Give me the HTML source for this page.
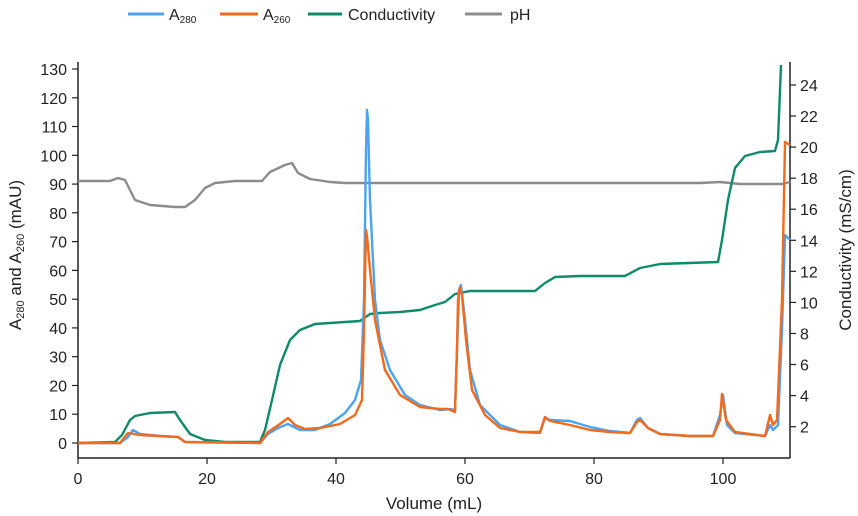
<!DOCTYPE html>
<html><head><meta charset="utf-8"><style>
body{margin:0;background:#fff;}
svg{display:block;font-family:"Liberation Sans",sans-serif;}
</style></head><body>
<svg width="858" height="516" viewBox="0 0 858 516" xmlns="http://www.w3.org/2000/svg">
<!-- legend -->
<g font-size="16" fill="#222">
<line x1="128" y1="14" x2="164" y2="14" stroke="#4da3f0" stroke-width="3"/>
<text x="169" y="20">A<tspan font-size="10" dy="3">280</tspan></text>
<line x1="220" y1="14" x2="258" y2="14" stroke="#f26a1b" stroke-width="3"/>
<text x="263" y="20">A<tspan font-size="10" dy="3">260</tspan></text>
<line x1="308" y1="14" x2="342" y2="14" stroke="#0f8a6a" stroke-width="3"/>
<text x="348" y="20">Conductivity</text>
<line x1="465" y1="14" x2="502" y2="14" stroke="#8c8c8c" stroke-width="3"/>
<text x="510" y="20">pH</text>
</g>
<!-- axes -->
<g stroke="#222" stroke-width="1.5">
<line x1="78" y1="62" x2="78" y2="458"/>
<line x1="78" y1="458" x2="790" y2="458"/>
<line x1="790" y1="62" x2="790" y2="458"/>
</g>
<g stroke="#222" stroke-width="1.2">
<line x1="72" y1="69" x2="78" y2="69"/><line x1="72" y1="97.8" x2="78" y2="97.8"/><line x1="72" y1="126.5" x2="78" y2="126.5"/><line x1="72" y1="155.3" x2="78" y2="155.3"/><line x1="72" y1="184.1" x2="78" y2="184.1"/><line x1="72" y1="212.8" x2="78" y2="212.8"/><line x1="72" y1="241.6" x2="78" y2="241.6"/><line x1="72" y1="270.4" x2="78" y2="270.4"/><line x1="72" y1="299.2" x2="78" y2="299.2"/><line x1="72" y1="327.9" x2="78" y2="327.9"/><line x1="72" y1="356.7" x2="78" y2="356.7"/><line x1="72" y1="385.5" x2="78" y2="385.5"/><line x1="72" y1="414.2" x2="78" y2="414.2"/><line x1="72" y1="443" x2="78" y2="443"/>
<line x1="78" y1="458" x2="78" y2="464"/><line x1="207" y1="458" x2="207" y2="464"/><line x1="336" y1="458" x2="336" y2="464"/><line x1="465" y1="458" x2="465" y2="464"/><line x1="594" y1="458" x2="594" y2="464"/><line x1="723" y1="458" x2="723" y2="464"/>
<line x1="790" y1="85" x2="796" y2="85"/><line x1="790" y1="116" x2="796" y2="116"/><line x1="790" y1="147.1" x2="796" y2="147.1"/><line x1="790" y1="178.2" x2="796" y2="178.2"/><line x1="790" y1="209.2" x2="796" y2="209.2"/><line x1="790" y1="240.3" x2="796" y2="240.3"/><line x1="790" y1="271.3" x2="796" y2="271.3"/><line x1="790" y1="302.4" x2="796" y2="302.4"/><line x1="790" y1="333.5" x2="796" y2="333.5"/><line x1="790" y1="364.5" x2="796" y2="364.5"/><line x1="790" y1="395.6" x2="796" y2="395.6"/><line x1="790" y1="426.7" x2="796" y2="426.7"/>
</g>
<g font-size="16" fill="#222" text-anchor="end">
<text x="67" y="75">130</text><text x="67" y="103.8">120</text><text x="67" y="132.5">110</text><text x="67" y="161.3">100</text><text x="67" y="190.1">90</text><text x="67" y="218.8">80</text><text x="67" y="247.6">70</text><text x="67" y="276.4">60</text><text x="67" y="305.2">50</text><text x="67" y="333.9">40</text><text x="67" y="362.7">30</text><text x="67" y="391.5">20</text><text x="67" y="420.2">10</text><text x="67" y="449">0</text>
</g>
<g font-size="16" fill="#222">
<text x="800" y="91">24</text><text x="800" y="122">22</text><text x="800" y="153.1">20</text><text x="800" y="184.2">18</text><text x="800" y="215.2">16</text><text x="800" y="246.3">14</text><text x="800" y="277.3">12</text><text x="800" y="308.4">10</text><text x="800" y="339.5">8</text><text x="800" y="370.5">6</text><text x="800" y="401.6">4</text><text x="800" y="432.7">2</text>
</g>
<g font-size="16" fill="#222" text-anchor="middle">
<text x="78" y="484">0</text><text x="207" y="484">20</text><text x="336" y="484">40</text><text x="465" y="484">60</text><text x="594" y="484">80</text><text x="723" y="484">100</text>
<text x="434" y="509" font-size="17">Volume (mL)</text>
<text transform="translate(21,255) rotate(-90)" font-size="17">A<tspan font-size="11" dy="3">280</tspan><tspan dy="-3"> and A</tspan><tspan font-size="11" dy="3">260</tspan><tspan dy="-3"> (mAU)</tspan></text>
<text transform="translate(851,250) rotate(-90)" font-size="17">Conductivity (mS/cm)</text>
</g>
<!-- series -->
<g fill="none" stroke-width="2.4" stroke-linejoin="round">
<polyline stroke="#8c8c8c" points="78,181 110,181 118,178 125,180 135,200 150,205 175,207 185,207 195,200 205,188 215,183 235,181 262,181 270,172 285,165 292,163 298,173 310,179 330,182 345,183 700,183 720,182 740,184 782,184 790,182"/>
<polyline stroke="#0f8a6a" points="78,443 115,442 122,435 130,420 135,416 150,413 175,412 180,420 190,434 205,440 225,442 260,442 265,430 272,400 280,365 290,340 300,330 315,324 345,322 360,321 370,314 380,313 400,312 420,310 435,305 445,302 455,294 470,291 535,291 545,283 555,277 580,276 625,276 640,268 660,264 718,262 722,240 728,200 735,168 745,156 760,152 775,151 778,140 781,65"/>
<polyline stroke="#4da3f0" points="78,443 120,443 128,437 133,430 140,434 160,436 178,437 185,442 260,443 268,434 278,428 288,424 300,430 315,430 330,424 345,413 355,400 361,380 364,300 366,150 367,110 368,120 370,200 375,300 380,340 390,370 405,395 420,405 440,410 450,409 455,410 457,350 459,290 461,285 465,320 470,370 480,405 500,425 520,432 540,433 545,418 550,420 570,421 590,427 610,431 630,433 637,420 640,418 648,428 660,434 690,436 713,436 720,415 723,395 727,425 735,433 765,436 770,425 773,430 778,425 782,330 785,235 790,240"/>
<polyline stroke="#f26a1b" points="78,443 120,443 128,433 140,435 160,436 178,437 185,442 260,443 268,432 280,424 288,418 295,425 305,429 320,428 340,424 355,415 362,400 364,330 366,230 367,236 370,270 375,320 385,370 400,395 420,407 440,409 448,409 455,412 457,350 458,300 460,287 462,295 466,340 472,390 485,415 500,428 520,432 540,432 545,417 550,421 570,425 590,430 610,432 630,433 637,422 640,420 648,428 660,434 690,436 713,436 720,420 722,394 726,420 735,432 765,436 770,415 773,425 777,420 782,300 785,142 790,145"/>
</g>
</svg>
</body></html>
